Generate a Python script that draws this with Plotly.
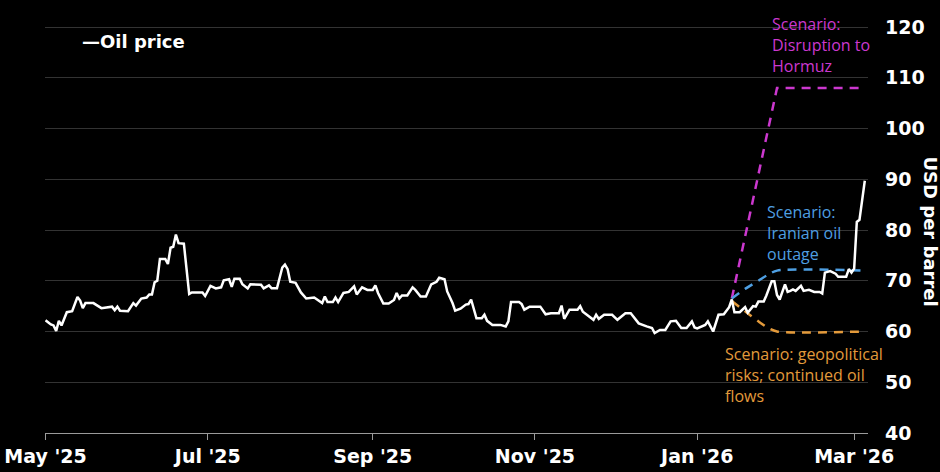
import plotly.graph_objects as go

# ---- data ----
price_dates = [
    "2025-05-01","2025-05-03","2025-05-04","2025-05-05","2025-05-06","2025-05-07","2025-05-09","2025-05-11",
    "2025-05-13","2025-05-14","2025-05-15","2025-05-16","2025-05-19","2025-05-22","2025-05-26","2025-05-27",
    "2025-05-28","2025-05-29","2025-06-01","2025-06-03","2025-06-04","2025-06-06","2025-06-08","2025-06-09",
    "2025-06-10","2025-06-11","2025-06-12","2025-06-13","2025-06-15","2025-06-16","2025-06-17","2025-06-18",
    "2025-06-19","2025-06-20","2025-06-22","2025-06-24","2025-06-25","2025-06-29","2025-06-30","2025-07-02",
    "2025-07-04","2025-07-06","2025-07-07","2025-07-09","2025-07-10","2025-07-11","2025-07-13","2025-07-14",
    "2025-07-16","2025-07-17","2025-07-21","2025-07-22","2025-07-24","2025-07-25","2025-07-27","2025-07-29",
    "2025-07-30","2025-07-31","2025-08-01","2025-08-03","2025-08-05","2025-08-07","2025-08-10","2025-08-13",
    "2025-08-14","2025-08-15","2025-08-17","2025-08-18","2025-08-19","2025-08-21","2025-08-23","2025-08-25",
    "2025-08-26","2025-08-28","2025-08-30","2025-09-01","2025-09-02","2025-09-03","2025-09-05","2025-09-07",
    "2025-09-09","2025-09-10","2025-09-11","2025-09-12","2025-09-14","2025-09-16","2025-09-17","2025-09-19",
    "2025-09-21","2025-09-23","2025-09-25","2025-09-26","2025-09-28","2025-09-29","2025-10-01","2025-10-02",
    "2025-10-04","2025-10-06","2025-10-07","2025-10-08","2025-10-10","2025-10-12","2025-10-13","2025-10-14",
    "2025-10-16","2025-10-19","2025-10-21","2025-10-22","2025-10-23","2025-10-26","2025-10-27","2025-10-28",
    "2025-10-30","2025-11-03","2025-11-05","2025-11-07","2025-11-10","2025-11-11","2025-11-12","2025-11-13",
    "2025-11-14","2025-11-17","2025-11-18","2025-11-19","2025-11-20","2025-11-23","2025-11-24","2025-11-25",
    "2025-11-27","2025-11-30","2025-12-02","2025-12-05","2025-12-07","2025-12-09","2025-12-10","2025-12-13",
    "2025-12-15","2025-12-16","2025-12-18","2025-12-20","2025-12-22","2025-12-24","2025-12-26","2025-12-28",
    "2025-12-30","2025-12-31","2026-01-01","2026-01-04","2026-01-05","2026-01-07","2026-01-09","2026-01-11",
    "2026-01-13","2026-01-14","2026-01-15","2026-01-17","2026-01-19","2026-01-20","2026-01-22","2026-01-23",
    "2026-01-24","2026-01-26","2026-01-27","2026-01-29","2026-01-30","2026-01-31","2026-02-01","2026-02-03",
    "2026-02-04","2026-02-05","2026-02-06","2026-02-07","2026-02-09","2026-02-10","2026-02-12","2026-02-14",
    "2026-02-16","2026-02-17","2026-02-18","2026-02-20","2026-02-22","2026-02-23","2026-02-26","2026-02-27",
    "2026-02-28","2026-03-01","2026-03-02","2026-03-03","2026-03-04","2026-03-05",
]
price_values = [
    62.2,61.4,61.2,60.1,62.1,61.2,63.8,64.0,
    66.8,66.1,64.6,65.6,65.6,64.6,64.9,64.2,
    64.9,64.1,64.0,65.6,65.1,66.5,66.7,67.3,
    67.3,69.7,70.0,74.3,74.3,73.3,76.5,76.7,
    79.1,77.4,77.3,67.4,67.7,67.7,67.0,69.0,
    68.5,68.7,70.1,70.3,68.8,70.4,70.4,69.3,
    68.5,69.3,69.2,68.5,69.1,68.5,68.5,72.6,
    73.2,72.3,69.8,69.6,67.7,66.5,66.7,65.6,
    66.9,65.8,65.8,66.7,65.8,67.6,67.8,68.9,
    67.3,68.7,68.2,68.2,69.1,67.6,65.5,65.5,
    66.2,67.6,66.5,67.1,67.1,68.7,68.2,66.9,
    66.9,69.3,69.8,70.6,70.3,67.9,65.6,64.1,
    64.5,65.3,65.4,66.3,62.6,62.6,63.3,62.1,
    61.3,61.3,61.0,62.0,65.8,65.8,65.4,64.3,
    64.9,64.9,63.4,63.6,63.6,65.1,62.5,63.5,
    64.3,64.3,65.0,63.9,63.5,62.3,63.3,62.5,
    63.3,63.3,62.3,63.6,63.6,62.1,61.6,61.0,
    60.7,59.7,60.3,60.3,62.0,62.1,60.7,60.7,
    62.0,60.8,60.6,61.3,62.0,60.0,63.3,63.4,
    64.8,66.3,63.8,63.8,64.8,63.7,65.0,64.9,
    65.9,65.9,67.1,69.9,69.9,67.2,66.3,69.3,
    67.8,68.0,68.3,68.0,69.0,68.0,68.2,67.8,
    67.8,67.5,71.6,71.9,71.4,70.8,70.8,72.3,
    71.6,72.4,81.6,82.0,85.6,89.7,
]

hormuz_dates = ["2026-01-14", "2026-01-31", "2026-03-05"]
hormuz_values = [66.5, 108.0, 108.0]

iran_dates = ["2026-01-14", "2026-01-19", "2026-01-24", "2026-01-28", "2026-01-31", "2026-03-05"]
iran_values = [66.5, 68.4, 70.0, 71.3, 72.0, 72.0]

geo_dates = ["2026-01-14", "2026-01-19", "2026-01-24", "2026-01-28", "2026-01-31", "2026-03-05"]
geo_values = [66.0, 64.0, 62.0, 60.6, 60.0, 60.0]

y_ticks = [40, 50, 60, 70, 80, 90, 100, 110, 120]

MAGENTA = "#cc38cf"
BLUE = "#4e9fe2"
ORANGE = "#e39a3b"
BOLD = "DejaVu Sans"
REG = "Open Sans"

fig = go.Figure()
fig.add_trace(go.Scatter(x=hormuz_dates, y=hormuz_values, mode="lines",
                         line=dict(color=MAGENTA, width=2.5, dash="9px,7px"), hoverinfo="skip"))
fig.add_trace(go.Scatter(x=iran_dates, y=iran_values, mode="lines",
                         line=dict(color=BLUE, width=2.5, dash="9px,7px", shape="spline", smoothing=0.8),
                         hoverinfo="skip"))
fig.add_trace(go.Scatter(x=geo_dates, y=geo_values, mode="lines",
                         line=dict(color=ORANGE, width=2.5, dash="9px,7px", shape="spline", smoothing=0.8),
                         hoverinfo="skip"))
fig.add_trace(go.Scatter(x=price_dates, y=price_values, mode="lines", name="Oil price",
                         line=dict(color="white", width=2.5)))

fig.update_layout(
    width=940, height=472,
    margin=dict(l=45, r=72, t=26, b=39),
    paper_bgcolor="black", plot_bgcolor="black",
    showlegend=False,
    font=dict(family=BOLD, color="white"),
    xaxis=dict(
        type="date", automargin=False,
        range=["2025-04-30 19:00", "2026-03-06 05:00"],
        tick0="2025-05-01", dtick="M2", tickformat="%b '%y",
        showgrid=False, zeroline=False,
        showline=True, linecolor="#9a9a9a", linewidth=1,
        ticks="outside", ticklen=6, tickcolor="#9a9a9a", tickwidth=1,
        tickfont=dict(family=BOLD, size=19, color="white", weight="bold"),
    ),
    yaxis=dict(
        side="right", range=[40, 120.2], automargin=False,
        tickvals=y_ticks,
        showgrid=True, gridcolor="#333333", gridwidth=1,
        zeroline=False, showline=False, ticks="",
        ticklabelstandoff=16,
        tickfont=dict(family=BOLD, size=19, color="white", weight="bold"),
    ),
)

annos = [
    dict(text="—Oil price", x=0.042, y=0.963, xanchor="left", yanchor="middle",
         font=dict(family=BOLD, size=18, color="white", weight="bold")),
    dict(text="USD per barrel", x=1.0754, y=0.495, xanchor="center", yanchor="middle", textangle=90,
         font=dict(family=BOLD, size=18, color="white", weight="bold")),
    dict(text="Scenario:<br>Disruption to<br>Hormuz", x=0.881, y=1.036, xanchor="left", yanchor="top",
         align="left", font=dict(family=REG, size=16, color=MAGENTA)),
    dict(text="Scenario:<br>Iranian oil<br>outage", x=0.875, y=0.575, xanchor="left", yanchor="top",
         align="left", font=dict(family=REG, size=16, color=BLUE)),
    dict(text="Scenario: geopolitical<br>risks; continued oil<br>flows", x=0.824, y=0.226,
         xanchor="left", yanchor="top", align="left", font=dict(family=REG, size=16, color=ORANGE)),
]
for a in annos:
    fig.add_annotation(xref="paper", yref="paper", showarrow=False, **a)

fig.write_html(
    "out.html",
    config={"displayModeBar": False},
    post_script="document.body.style.margin='0';document.body.style.background='black';",
)
